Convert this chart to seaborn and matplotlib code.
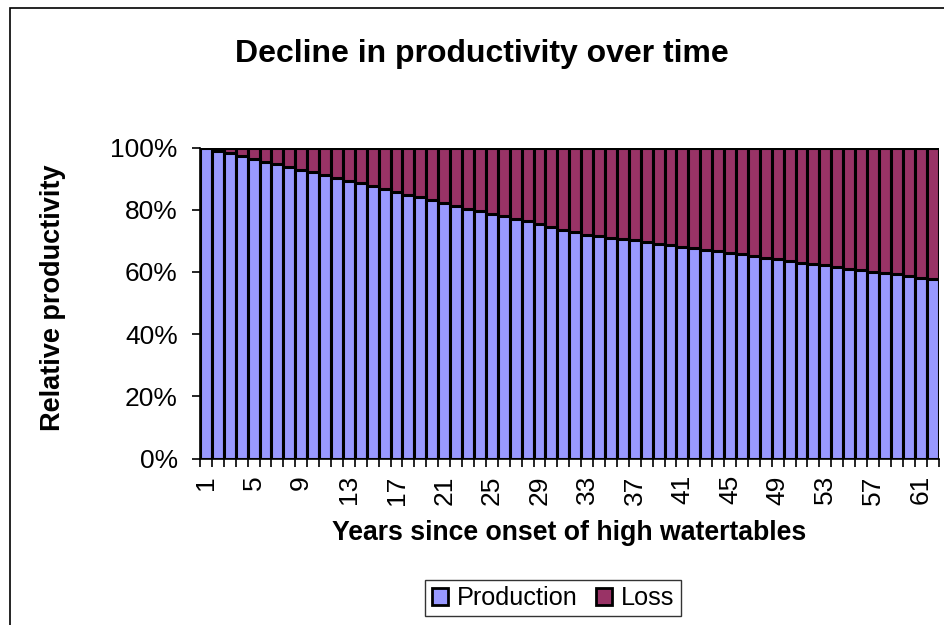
import numpy as np
import pandas as pd
import matplotlib
matplotlib.use("Agg")
import matplotlib.pyplot as plt
from matplotlib.patches import Rectangle, Patch
from matplotlib.ticker import FuncFormatter, FixedLocator
import seaborn as sns

years = list(range(1, 63))
production = [100.0, 99.0, 98.2, 97.3, 96.4, 95.4, 94.6, 93.8, 92.9, 92.0,
              91.1, 90.2, 89.3, 88.5, 87.6, 86.6, 85.7, 84.8, 84.0, 83.0,
              82.1, 81.3, 80.3, 79.5, 78.7, 77.9, 77.0, 76.3, 75.4, 74.5,
              73.5, 72.7, 72.0, 71.5, 71.0, 70.6, 70.2, 69.6, 69.0, 68.5,
              68.1, 67.6, 67.2, 66.7, 66.0, 65.6, 65.1, 64.5, 64.1, 63.6,
              63.0, 62.5, 62.1, 61.5, 61.0, 60.6, 60.0, 59.6, 59.2, 58.7,
              58.1, 57.6]
total = [100.0] * len(years)
series_names = ["Production", "Loss"]
title = "Decline in productivity over time"
xlabel = "Years since onset of high watertables"
ylabel = "Relative productivity"
yticks = [0, 20, 40, 60, 80, 100]

prod_color = "#9999FF"
loss_color = "#993366"

sns.set_theme(style="white")
plt.rcParams['font.family'] = ['Liberation Sans', 'DejaVu Sans']
plt.rcParams['text.color'] = 'black'
plt.rcParams['axes.labelcolor'] = 'black'
plt.rcParams['xtick.color'] = 'black'
plt.rcParams['ytick.color'] = 'black'

W, H = 944, 625
fig = plt.figure(figsize=(W / 100, H / 100), dpi=100)
ax = fig.add_axes([200 / W, 1 - 458.5 / H, (938.5 - 200) / W, (458.5 - 147.5) / H])

df = pd.DataFrame({"year": [str(y) for y in years], "production": production, "total": total})
order = [str(y) for y in years]

sns.barplot(data=df, x="year", y="total", order=order, color=loss_color, width=1.0,
            edgecolor="black", linewidth=2.2, saturation=1, ax=ax, zorder=2)
sns.barplot(data=df, x="year", y="production", order=order, color=prod_color, width=1.0,
            edgecolor="black", linewidth=2.2, saturation=1, ax=ax, zorder=3)

ax.set_xlim(-0.5, len(years) - 0.5)
ax.set_ylim(0, 100)
ax.set_xlabel("")
ax.set_ylabel("")

# x ticks: labels every 4th year, tick marks at category boundaries
lab_pos = [i for i, y in enumerate(years) if (y - 1) % 4 == 0]
ax.xaxis.set_major_locator(FixedLocator(lab_pos))
ax.set_xticklabels([str(years[i]) for i in lab_pos], rotation=90, fontsize=19)
ax.xaxis.set_minor_locator(FixedLocator(np.arange(-0.5, len(years), 1.0)))
ax.tick_params(axis="x", which="major", length=0, pad=12)
ax.tick_params(axis="x", which="minor", length=6, width=1.2, color="black", bottom=True)

ax.set_yticks(yticks)
ax.yaxis.set_major_formatter(FuncFormatter(lambda v, p: f"{int(v)}%"))
ax.tick_params(axis="y", which="major", length=6, width=1.2, color="black", left=True, pad=10,
               labelsize=19)

for s in ["top", "right"]:
    ax.spines[s].set_visible(False)
for s in ["left", "bottom"]:
    ax.spines[s].set_color("black")
    ax.spines[s].set_linewidth(1.2)
ax.set_facecolor("white")

fig.text(481.5 / W, 1 - 54 / H, title, ha="center", va="center", fontsize=23, fontweight="bold")
fig.text(569 / W, 1 - 533 / H, xlabel, ha="center", va="center", fontsize=19.2, fontweight="bold")
fig.text(53 / W, 1 - 298 / H, ylabel, ha="center", va="center", rotation=90, fontsize=19.5,
         fontweight="bold")

handles = [Patch(facecolor=prod_color, edgecolor="black", linewidth=2.0),
           Patch(facecolor=loss_color, edgecolor="black", linewidth=2.0)]
leg = fig.legend(handles, series_names, loc="center", bbox_to_anchor=(553 / W, 1 - 598 / H),
                 ncol=2, fontsize=18.2, frameon=True, fancybox=False, handlelength=0.65,
                 handleheight=0.65, handletextpad=0.35, columnspacing=0.7, borderpad=0.25,
                 borderaxespad=0)
leg.get_frame().set_edgecolor("black")
leg.get_frame().set_linewidth(1.0)

fig.patches.append(Rectangle((10 / W, -0.1), 1.2, 1 - 8 / H + 0.1, transform=fig.transFigure,
                             fill=False, edgecolor="black", linewidth=1.2))

fig.savefig("out.png", dpi=100, facecolor="white")
